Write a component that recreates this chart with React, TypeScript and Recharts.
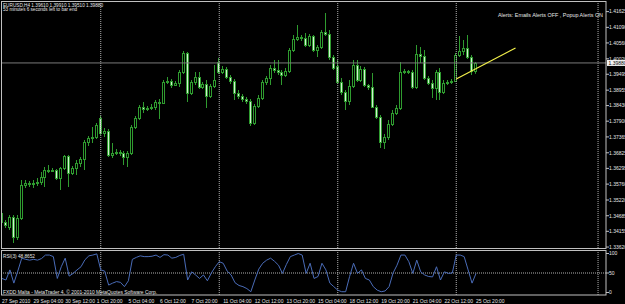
import React from 'react';
import { ComposedChart, Bar, XAxis, YAxis, ReferenceLine, LineChart, Line } from 'recharts';

// EURUSD H4 candles, 27 Sep 2010 20:00 .. 25 Oct 2010 20:00
const opens = [
  1.34778, 1.34472, 1.34302, 1.34642, 1.33962, 1.34608, 1.3573, 1.35798, 1.35764, 1.35798,
  1.35832, 1.36002, 1.3624, 1.36206, 1.3624, 1.35968, 1.36308, 1.36716, 1.36138, 1.36308,
  1.36478, 1.36614, 1.37192, 1.37328, 1.37362, 1.38008, 1.37498, 1.37566, 1.3675, 1.36818,
  1.36852, 1.36818, 1.36682, 1.36818, 1.37702, 1.38008, 1.38382, 1.38314, 1.38348, 1.38382,
  1.38552, 1.38518, 1.39232, 1.39266, 1.3913, 1.39198, 1.39572, 1.40218, 1.38858, 1.39232,
  1.39402, 1.39062, 1.39164, 1.38756, 1.39096, 1.39912, 1.39572, 1.39674, 1.39402, 1.39266,
  1.38858, 1.38756, 1.38654, 1.38586, 1.37838, 1.38416, 1.38688, 1.39232, 1.39368, 1.39708,
  1.3964, 1.39572, 1.3947, 1.39606, 1.4032, 1.40694, 1.40762, 1.40728, 1.4049, 1.40796,
  1.4032, 1.40422, 1.40932, 1.40864, 1.40082, 1.39776, 1.39232, 1.38892, 1.38586, 1.39096,
  1.3981, 1.393, 1.39674, 1.3913, 1.39062, 1.38382, 1.38042, 1.37192, 1.37362, 1.37804,
  1.38178, 1.38348, 1.39572, 1.39606, 1.39572, 1.39062, 1.40184, 1.40116, 1.39368, 1.39198,
  1.39028, 1.39572, 1.38892, 1.39198, 1.39232, 1.39266, 1.4015, 1.40286, 1.40388, 1.40082,
  1.3961,
];
const highs = [
  1.34948, 1.3454, 1.3471, 1.3471, 1.3471, 1.359, 1.359, 1.35866, 1.359, 1.35968,
  1.36172, 1.36342, 1.3641, 1.36308, 1.36274, 1.36342, 1.3675, 1.3675, 1.36376, 1.3658,
  1.36682, 1.3726, 1.37396, 1.37702, 1.37838, 1.38076, 1.37668, 1.37634, 1.37158, 1.36954,
  1.3692, 1.36886, 1.36886, 1.3777, 1.38076, 1.3845, 1.38552, 1.38416, 1.38484, 1.3862,
  1.38654, 1.393, 1.39402, 1.39334, 1.39266, 1.3964, 1.40286, 1.40252, 1.393, 1.39572,
  1.39572, 1.39232, 1.393, 1.39164, 1.3981, 1.40048, 1.39776, 1.39742, 1.3947, 1.39334,
  1.3896, 1.38824, 1.38722, 1.38654, 1.38484, 1.3879, 1.393, 1.39436, 1.3981, 1.3998,
  1.3998, 1.3964, 1.39708, 1.40388, 1.4083, 1.4117, 1.4083, 1.40898, 1.40864, 1.4083,
  1.4049, 1.41, 1.41578, 1.41, 1.4015, 1.3998, 1.39368, 1.3896, 1.393, 1.3998,
  1.3998, 1.39776, 1.39742, 1.39164, 1.39538, 1.3845, 1.3811, 1.37464, 1.3794, 1.3828,
  1.3845, 1.39912, 1.39674, 1.3964, 1.3964, 1.4049, 1.40422, 1.4032, 1.39436, 1.393,
  1.3964, 1.39708, 1.393, 1.393, 1.39334, 1.40218, 1.40796, 1.4066, 1.4083, 1.4015,
  1.3991,
];
const lows = [
  1.3437, 1.34268, 1.342, 1.33758, 1.3386, 1.3454, 1.35628, 1.35662, 1.35628, 1.35696,
  1.3573, 1.35662, 1.36138, 1.36172, 1.359, 1.3556, 1.3624, 1.35662, 1.3607, 1.3607,
  1.36342, 1.3624, 1.37056, 1.37158, 1.37294, 1.3743, 1.37362, 1.36682, 1.36648, 1.3675,
  1.36716, 1.3641, 1.36342, 1.3675, 1.37634, 1.3794, 1.38178, 1.38246, 1.3828, 1.3828,
  1.37974, 1.38484, 1.39164, 1.39028, 1.39096, 1.39062, 1.39504, 1.38552, 1.3879, 1.3913,
  1.38994, 1.38994, 1.38348, 1.38688, 1.39028, 1.39504, 1.39504, 1.39334, 1.39164, 1.3862,
  1.38654, 1.38552, 1.38484, 1.37736, 1.3777, 1.38348, 1.3862, 1.3913, 1.3913, 1.39538,
  1.3947, 1.3913, 1.39402, 1.39538, 1.40252, 1.40626, 1.40626, 1.40422, 1.40422, 1.40252,
  1.40082, 1.40354, 1.40796, 1.3998, 1.3964, 1.39164, 1.3879, 1.3828, 1.3845, 1.39028,
  1.39232, 1.39232, 1.39062, 1.3896, 1.38348, 1.37974, 1.36988, 1.36954, 1.3726, 1.37736,
  1.3811, 1.3828, 1.39504, 1.39504, 1.38994, 1.38994, 1.39878, 1.393, 1.3913, 1.38688,
  1.3862, 1.3862, 1.38824, 1.3913, 1.39164, 1.39232, 1.40082, 1.4015, 1.40014, 1.3947,
  1.3951,
];
const closes = [
  1.34472, 1.3437, 1.34642, 1.33962, 1.34608, 1.3573, 1.35798, 1.35764, 1.35798, 1.35832,
  1.36002, 1.3624, 1.36206, 1.3624, 1.35968, 1.36308, 1.36716, 1.36138, 1.36308, 1.36478,
  1.36614, 1.37192, 1.37328, 1.37362, 1.3777, 1.37498, 1.37566, 1.3675, 1.36818, 1.36852,
  1.36818, 1.36682, 1.36818, 1.37702, 1.38008, 1.38382, 1.38314, 1.38348, 1.38382, 1.38552,
  1.38518, 1.39232, 1.39266, 1.3913, 1.39198, 1.39572, 1.40218, 1.38858, 1.39232, 1.39402,
  1.39062, 1.39164, 1.38756, 1.39096, 1.393, 1.39572, 1.39674, 1.39402, 1.39266, 1.38858,
  1.38756, 1.38654, 1.38586, 1.37838, 1.38416, 1.38688, 1.39232, 1.39368, 1.39708, 1.3964,
  1.39572, 1.3947, 1.39606, 1.4032, 1.40694, 1.40762, 1.40728, 1.4049, 1.40796, 1.4032,
  1.40422, 1.40932, 1.40864, 1.40082, 1.39708, 1.39232, 1.38892, 1.38586, 1.39096, 1.3981,
  1.393, 1.39674, 1.3913, 1.39062, 1.38382, 1.38042, 1.37192, 1.37362, 1.37804, 1.38178,
  1.38348, 1.39572, 1.39606, 1.39572, 1.39062, 1.40184, 1.40116, 1.39368, 1.39198, 1.39028,
  1.39572, 1.38892, 1.39198, 1.39232, 1.39266, 1.4015, 1.40286, 1.40388, 1.40082, 1.39606,
  1.3988,
];
// RSI(3)
const rsiValues = [
  36, 32, 58, 24, 55, 88, 85, 83, 85, 83,
  87, 96, 96, 92, 36, 66, 88, 42, 49, 58,
  66, 84, 94, 96, 99, 58, 55, 19, 24, 28,
  26, 15, 30, 85, 90, 94, 92, 92, 93, 96,
  90, 97, 96, 88, 90, 95, 98, 32, 53, 45,
  36, 45, 30, 50, 66, 79, 75, 55, 45, 25,
  18, 15, 10, 2, 32, 60, 75, 83, 88, 80,
  70, 49, 72, 92, 96, 100, 96, 49, 75, 36,
  41, 75, 58, 24, 15, 6, 2, 2, 41, 75,
  49, 58, 36, 32, 15, 6, 2, 4, 15, 50,
  70, 96, 96, 79, 49, 83, 53, 45, 41, 40,
  66, 32, 53, 49, 50, 96, 96, 92, 58, 24,
  48.8652,
];

const priceTicks = [
  1.41625, 1.4109, 1.4056, 1.4002, 1.39495, 1.38955, 1.3843, 1.379,
  1.37365, 1.36825, 1.36295, 1.3576, 1.3522, 1.34685, 1.34155, 1.3362,
];
const dateTicks = [0, 8, 16, 24, 32, 40, 48, 56, 64, 72, 80, 88, 96, 104, 112, 120];
const dateLabels = [
  '27 Sep 2010', '29 Sep 04:00', '30 Sep 12:00', '1 Oct 20:00', '5 Oct 04:00', '6 Oct 12:00',
  '7 Oct 20:00', '11 Oct 04:00', '12 Oct 12:00', '13 Oct 20:00', '15 Oct 04:00', '18 Oct 12:00',
  '19 Oct 20:00', '21 Oct 04:00', '22 Oct 12:00', '25 Oct 20:00',
];
const rsiTicks = [0, 50, 100];
const weekSeparators = [25, 55, 85, 115];
const shiftMarker = 150.9;
const bidPrice = 1.3988;
const trendLine = [
  { x: 115, y: 1.39334 },
  { x: 130, y: 1.40388 },
];

const candles = opens.map((o, i) => ({
  i,
  open: o,
  high: highs[i],
  low: lows[i],
  close: closes[i],
  rsi: rsiValues[i],
}));

const X_DOMAIN: [number, number] = [-0.253, 152.91];
const PRICE_DOMAIN: [number, number] = [1.33588, 1.41986];
const RSI_DOMAIN: [number, number] = [-6.41, 106.41];

const FONT = '"Liberation Sans", Arial, sans-serif';
const CANDLE = '#2f9b2f';
const BEAR_FILL = '#d2f0d2';
const FRAME = '#c0c0c0';
const TEXT = '#e6e6e6';
const DOTS = '#b0b0b0';

function Candle(props: any) {
  const { x, y, width, height, payload } = props;
  if (!payload || x == null || y == null) return null;
  const { open, high, low, close } = payload;
  const top = Math.min(y, y + height);
  const h = Math.abs(height);
  const span = high - low;
  const py = (v: number) => top + (span > 0 ? ((high - v) / span) * h : 0);
  const cx = Math.floor(x + width / 2) + 0.5;
  const bodyTop = Math.round(py(Math.max(open, close)));
  const bodyBot = Math.round(py(Math.min(open, close)));
  const bull = close >= open;
  return (
    <g>
      <line x1={cx} x2={cx} y1={top} y2={top + h} stroke={CANDLE} strokeWidth={1} />
      <rect
        x={cx - 1}
        y={bodyTop + 0.5}
        width={2}
        height={Math.max(1, bodyBot - bodyTop)}
        fill={bull ? '#000' : BEAR_FILL}
        stroke={CANDLE}
        strokeWidth={1}
      />
    </g>
  );
}

function PriceTick(props: any) {
  const { x, y, payload } = props;
  return (
    <text x={x} y={y + 1.8} fontSize={5} fill={TEXT} fontFamily={FONT} textAnchor="start">
      {Number(payload.value).toFixed(5)}
    </text>
  );
}

function RsiTick(props: any) {
  const { x, y, payload } = props;
  return (
    <text x={x} y={y + 1.8} fontSize={5} fill={TEXT} fontFamily={FONT} textAnchor="start">
      {payload.value}
    </text>
  );
}

function DateTick(props: any) {
  const { x, y, payload, index } = props;
  return (
    <text x={x} y={y + 4.5} fontSize={5} fill={TEXT} fontFamily={FONT} textAnchor="start">
      {dateLabels[index] ?? String(payload.value)}
    </text>
  );
}

function BidLabel(props: any) {
  const vb = props.viewBox;
  if (!vb) return null;
  const left = vb.x + vb.width + 1;
  return (
    <g>
      <rect x={left} y={vb.y - 3} width={20} height={6} fill="#f4f4f4" />
      <text x={left + 1.5} y={vb.y + 1.8} fontSize={5} fill="#000" fontFamily={FONT}>
        {bidPrice.toFixed(5)}
      </text>
    </g>
  );
}

export default function App() {
  return (
    <div
      style={{
        position: 'absolute',
        left: 0,
        top: 0,
        width: 625,
        height: 304,
        background: '#000',
        overflow: 'hidden',
      }}
    >
      <div style={{ position: 'absolute', left: 0, top: 0 }}>
        <ComposedChart width={625} height={249} data={candles} margin={{ top: 1, right: 0, left: 1, bottom: 1 }}>
          <XAxis type="number" dataKey="i" domain={X_DOMAIN} allowDataOverflow hide />
          <YAxis
            type="number"
            orientation="right"
            width={19}
            domain={PRICE_DOMAIN}
            allowDataOverflow
            ticks={priceTicks}
            interval={0}
            tick={<PriceTick />}
            tickSize={3}
            tickMargin={0}
            tickLine={{ stroke: FRAME }}
            axisLine={false}
          />
          {weekSeparators.map((s) => (
            <ReferenceLine key={s} x={s} stroke={DOTS} strokeDasharray="1 1" />
          ))}
          <ReferenceLine x={shiftMarker} stroke={DOTS} strokeDasharray="1 1" />
          <ReferenceLine y={bidPrice} stroke="#7a7a7a" label={<BidLabel />} />
          <Bar
            dataKey={(d: any) => [d.low, d.high]}
            barSize={3}
            shape={<Candle />}
            isAnimationActive={false}
          />
          <ReferenceLine segment={trendLine} stroke="#f2f04a" strokeWidth={1.2} ifOverflow="visible" />
        </ComposedChart>
      </div>
      <div style={{ position: 'absolute', left: 0, top: 250 }}>
        <LineChart width={625} height={54} data={candles} margin={{ top: 1, right: 0, left: 1, bottom: 0 }}>
          <XAxis
            type="number"
            dataKey="i"
            domain={X_DOMAIN}
            allowDataOverflow
            ticks={dateTicks}
            interval={0}
            height={9}
            tickSize={3}
            tickMargin={0}
            tickLine={false}
            axisLine={false}
            tick={<DateTick />}
          />
          <YAxis
            type="number"
            orientation="right"
            width={19}
            domain={RSI_DOMAIN}
            allowDataOverflow
            ticks={rsiTicks}
            interval={0}
            tick={<RsiTick />}
            tickSize={3}
            tickMargin={0}
            tickLine={{ stroke: FRAME }}
            axisLine={false}
          />
          <ReferenceLine y={50} stroke={DOTS} strokeDasharray="1 1" />
          {weekSeparators.map((s) => (
            <ReferenceLine key={s} x={s} stroke={DOTS} strokeDasharray="1 1" />
          ))}
          <ReferenceLine x={shiftMarker} stroke={DOTS} strokeDasharray="1 1" />
          <Line
            type="linear"
            dataKey="rsi"
            stroke="#4a6cb8"
            strokeWidth={1}
            dot={false}
            isAnimationActive={false}
          />
        </LineChart>
      </div>
      <svg
        width={625}
        height={304}
        style={{ position: 'absolute', left: 0, top: 0, pointerEvents: 'none' }}
        fontFamily={FONT}
      >
        <rect x={1.5} y={1.5} width={604.5} height={247} fill="none" stroke={FRAME} />
        <rect x={1.5} y={250.5} width={604.5} height={44.5} fill="none" stroke={FRAME} />
        <text x={3} y={6.5} fontSize={5} fill={TEXT} textLength={100} lengthAdjust="spacingAndGlyphs">
          EURUSD,H4  1.39610 1.39910 1.39510 1.39880
        </text>
        <text x={3} y={11} fontSize={5} fill={TEXT} textLength={74} lengthAdjust="spacingAndGlyphs">
          53 minutes 6 seconds left to bar end
        </text>
        <text x={498} y={16.5} fontSize={5} fill={TEXT} textLength={105} lengthAdjust="spacingAndGlyphs">
          Alerts:  Emails Alerts OFF ,  Popup Alerts ON
        </text>
        <text x={3} y={257.5} fontSize={5} fill={TEXT} textLength={32} lengthAdjust="spacingAndGlyphs">
          RSI(3) 48.8652
        </text>
        <text x={3} y={293.5} fontSize={5} fill={TEXT} textLength={154} lengthAdjust="spacingAndGlyphs">
          FXDD Malta - MetaTrader 4, © 2001-2010 MetaQuotes Software Corp.
        </text>
      </svg>
    </div>
  );
}
